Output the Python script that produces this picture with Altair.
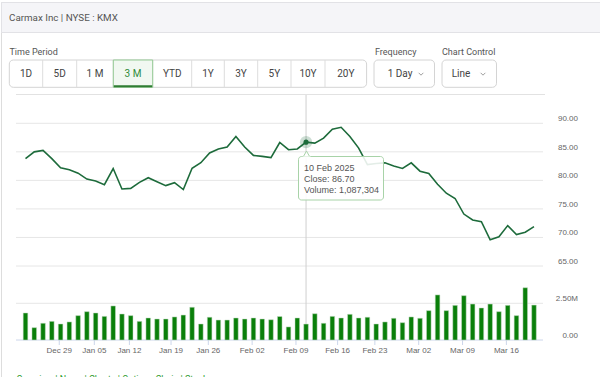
import altair as alt
import pandas as pd

# ---------------- data ----------------
closes = [83.8, 85.0, 85.25, 83.8, 82.2, 81.85, 81.27, 80.23, 79.9, 79.25,
          82.08, 78.5, 78.6, 79.65, 80.47, 79.77, 79.08, 79.6, 78.4, 82.13,
          83.1, 84.8, 85.5, 85.84, 87.68, 85.84, 84.38, 84.2, 83.98, 86.64,
          85.37, 85.5, 86.70, 86.53, 87.4, 88.96, 89.3, 87.68, 85.66, 82.77,
          82.95, 83.07, 82.5, 82.08, 83.07, 81.61, 81.21, 79.31, 77.75, 76.83,
          74.1, 73.07, 72.77, 69.6, 70.12, 72.08, 70.52, 70.93, 71.9]

volumes = [1840000, 840000, 1140000, 1270000, 1090000, 1230000, 1660000, 1930000, 1840000, 1610000,
           2320000, 1770000, 1660000, 1270000, 1500000, 1430000, 1430000, 1570000, 1700000, 2230000,
           1090000, 1550000, 1360000, 1360000, 1500000, 1430000, 1500000, 1430000, 1380000, 1600000,
           890000, 1500000, 1087304, 1790000, 1140000, 1610000, 1500000, 1750000, 1500000, 1550000,
           1090000, 1230000, 1480000, 1180000, 1570000, 1480000, 2000000, 3070000, 2000000, 2360000,
           3020000, 2450000, 2180000, 2450000, 1930000, 2360000, 1660000, 3560000, 2380000]

tick_labels = ["Dec 29", "Jan 05", "Jan 12", "Jan 19", "Jan 26", "Feb 02",
               "Feb 09", "Feb 16", "Feb 23", "Mar 02", "Mar 09", "Mar 16"]
tick_pos = [3.85, 7.85, 11.85, 16.6, 20.85, 25.85, 30.85, 35.6, 39.85, 44.85, 49.85, 54.85]

price_ticks = [65, 70, 75, 80, 85, 90]
volume_ticks = [0, 2500000]
volume_tick_labels = ["0.00", "2.50M"]

periods = ["1D", "5D", "1 M", "3 M", "YTD", "1Y", "3Y", "5Y", "10Y", "20Y"]
selected_period = "3 M"
title_text = "Carmax Inc | NYSE : KMX"
hover_idx = 32
hover_date = "10 Feb 2025"

# ---------------- styling / layout ----------------
UI_FONT = "Roboto"
HC_FONT = "Liberation Sans"
LINE_C = "#1d6b3b"
BAR_C = "#0a7f0a"
GRID_C = "#e6e6e6"

X = alt.Scale(domain=[0, 58], range=[20.5, 539], nice=False, zero=False)
YP = alt.Scale(domain=[65, 90], range=[266, 123.3], nice=False, zero=False)
YV = alt.Scale(domain=[0, 2500000], range=[340, 303.3], nice=False, zero=False)

one = pd.DataFrame({"k": [0]})


def rect(x, x2, y, y2, **kw):
    return alt.Chart(one).mark_rect(**kw).encode(
        x=alt.value(x), x2=alt.value(x2), y=alt.value(y), y2=alt.value(y2))


def text(s, x, y, **kw):
    base = dict(baseline="middle", font=UI_FONT, fontSize=10, color="#555")
    base.update(kw)
    return alt.Chart(one).mark_text(**base).encode(
        x=alt.value(x), y=alt.value(y), text=alt.value(s))


def hline(x, x2, y, color, w=1):
    return alt.Chart(one).mark_rule(color=color, strokeWidth=w).encode(
        x=alt.value(x), x2=alt.value(x2), y=alt.value(y))


def vline(x, y, y2, color, w=1):
    return alt.Chart(one).mark_rule(color=color, strokeWidth=w).encode(
        x=alt.value(x), y=alt.value(y), y2=alt.value(y2))


def chevron(x, y):
    return alt.Chart(one).mark_point(
        shape="M-1,-0.5L0,0.5L1,-0.5", filled=False, size=22,
        strokeWidth=1, color="#777").encode(x=alt.value(x), y=alt.value(y))


layers = []

# widget frame + header
layers.append(rect(1.5, 650, 2.5, 420, fill="white", stroke="#dddddd", strokeWidth=1))
layers.append(rect(1.5, 650, 2.5, 32.5, fill="#f5f5f8", stroke="#e2e2e6", strokeWidth=1))
layers.append(text(title_text, 9, 18, align="left", fontSize=9.8, color="#555"))

# control labels
layers.append(text("Time Period", 9.5, 52, align="left", fontSize=9, color="#555"))
layers.append(text("Frequency", 375, 52, align="left", fontSize=9, color="#555"))
layers.append(text("Chart Control", 442, 52, align="left", fontSize=9, color="#555"))

# period button group
btn_edges = [9.3, 42.7, 76.7, 113.3, 152.7, 191.7, 224.3, 257.7, 291, 325, 366.6]
layers.append(rect(btn_edges[0], btn_edges[-1], 60, 87.3, fill="white",
                   stroke="#d4d4d4", strokeWidth=1, cornerRadius=4))
for e in btn_edges[1:-1]:
    layers.append(vline(e, 60, 87.3, "#dddddd"))
sel = periods.index(selected_period)
layers.append(rect(btn_edges[sel], btn_edges[sel + 1], 60, 87.3, fill="#f1f8f1",
                   stroke="#93c993", strokeWidth=1))
layers.append(hline(btn_edges[sel] + 0.5, btn_edges[sel + 1] - 0.5, 86.3, "#2e7d32", 2))
for k, p in enumerate(periods):
    cx = (btn_edges[k] + btn_edges[k + 1]) / 2
    layers.append(text(p, cx, 74, align="center", fontSize=10,
                       color="#2e8b3a" if p == selected_period else "#444"))

# dropdowns
layers.append(rect(374, 434.5, 60, 87.3, fill="white", stroke="#d4d4d4", strokeWidth=1, cornerRadius=4))
layers.append(text("1 Day", 400, 74, align="center", fontSize=10, color="#444"))
layers.append(chevron(421, 74))
layers.append(rect(442, 496.5, 60, 87.3, fill="white", stroke="#d4d4d4", strokeWidth=1, cornerRadius=4))
layers.append(text("Line", 461, 74, align="center", fontSize=10, color="#444"))
layers.append(chevron(483, 74))

# chart region top line
layers.append(hline(16, 545, 94.5, "#e2e2e2"))

# ---------------- chart ----------------
df = pd.DataFrame({"i": list(range(len(closes))), "close": closes, "volume": volumes})
pt = pd.DataFrame({"p": price_ticks, "lab": [f"{v:.2f}" for v in price_ticks]})
vt = pd.DataFrame({"v": volume_ticks, "lab": volume_tick_labels})
xt = pd.DataFrame({"t": tick_pos, "lab": tick_labels})
hv = pd.DataFrame({"i": [hover_idx], "close": [closes[hover_idx]]})

layers.append(alt.Chart(pt).mark_rule(color=GRID_C, strokeWidth=1).encode(
    y=alt.Y("p:Q", scale=YP, axis=None), x=alt.value(16), x2=alt.value(543)))
layers.append(alt.Chart(pt).mark_text(align="right", baseline="middle", dy=-4,
                                      font=HC_FONT, fontSize=8, color="#666").encode(
    y=alt.Y("p:Q", scale=YP, axis=None), x=alt.value(578), text="lab:N"))

layers.append(alt.Chart(vt).mark_rule(strokeWidth=1).encode(
    y=alt.Y("v:Q", scale=YV, axis=None), x=alt.value(16), x2=alt.value(543),
    color=alt.condition("datum.v == 0", alt.value("#ccd6eb"), alt.value(GRID_C))))
layers.append(alt.Chart(vt).mark_text(align="right", baseline="middle", dy=-4,
                                      font=HC_FONT, fontSize=8, color="#666").encode(
    y=alt.Y("v:Q", scale=YV, axis=None), x=alt.value(578), text="lab:N"))

layers.append(alt.Chart(xt).mark_rule(color="#ccd6eb", strokeWidth=1).encode(
    x=alt.X("t:Q", scale=X, axis=None), y=alt.value(340), y2=alt.value(345)))
layers.append(alt.Chart(xt).mark_text(baseline="middle", font=HC_FONT, fontSize=8,
                                      color="#666").encode(
    x=alt.X("t:Q", scale=X, axis=None), y=alt.value(351), text="lab:N"))

# crosshair
layers.append(alt.Chart(hv).mark_rule(color="#cfcfcf", strokeWidth=1).encode(
    x=alt.X("i:Q", scale=X, axis=None), y=alt.value(95), y2=alt.value(340)))

# volume bars
layers.append(alt.Chart(df).mark_bar(size=4.6, color=BAR_C, stroke="#c5dbc5",
                                     strokeWidth=0.5).encode(
    x=alt.X("i:Q", scale=X, axis=None),
    y=alt.Y("volume:Q", scale=YV, axis=None),
    y2=alt.datum(0)))

# price line
layers.append(alt.Chart(df).mark_line(color=LINE_C, strokeWidth=1.6).encode(
    x=alt.X("i:Q", scale=X, axis=None),
    y=alt.Y("close:Q", scale=YP, axis=None)))

# hover marker
layers.append(alt.Chart(hv).mark_circle(size=150, color=LINE_C, opacity=0.22).encode(
    x=alt.X("i:Q", scale=X, axis=None), y=alt.Y("close:Q", scale=YP, axis=None)))
layers.append(alt.Chart(hv).mark_circle(size=26, color=LINE_C, opacity=1).encode(
    x=alt.X("i:Q", scale=X, axis=None), y=alt.Y("close:Q", scale=YP, axis=None)))

# tooltip
layers.append(rect(298.5, 383.5, 156.5, 200, fill="white", fillOpacity=0.88,
                   stroke="#a8d3a8", strokeWidth=1, cornerRadius=3))
layers.append(alt.Chart(one).mark_point(shape="triangle-up", size=45, filled=True,
                                        fill="white", stroke="#a8d3a8", strokeWidth=1,
                                        opacity=1).encode(
    x=alt.value(306.5), y=alt.value(154)))
layers.append(hline(302.5, 310.5, 157.2, "white", 1.5))
tip_lines = [hover_date,
             f"Close: {closes[hover_idx]:.2f}",
             f"Volume: {volumes[hover_idx]:,}"]
for k, s in enumerate(tip_lines):
    layers.append(text(s, 304, 167.7 + 11.3 * k, align="left", font=HC_FONT,
                       fontSize=9, color="#555"))

# cut-off links at the bottom
layers.append(text("Overview  |  News  |  Charts  |  Options Chain  |  Stock", 16.5, 374.5,
                   align="left", baseline="top", fontSize=9, color="#2a9a2a"))

chart = alt.layer(*layers).resolve_scale(y="independent").properties(
    width=600, height=377, autosize=alt.AutoSizeParams(type="none"), padding=0,
    background="white"
).configure_view(strokeWidth=0)

chart.save("out.html", embed_options={"renderer": "svg", "actions": False})
